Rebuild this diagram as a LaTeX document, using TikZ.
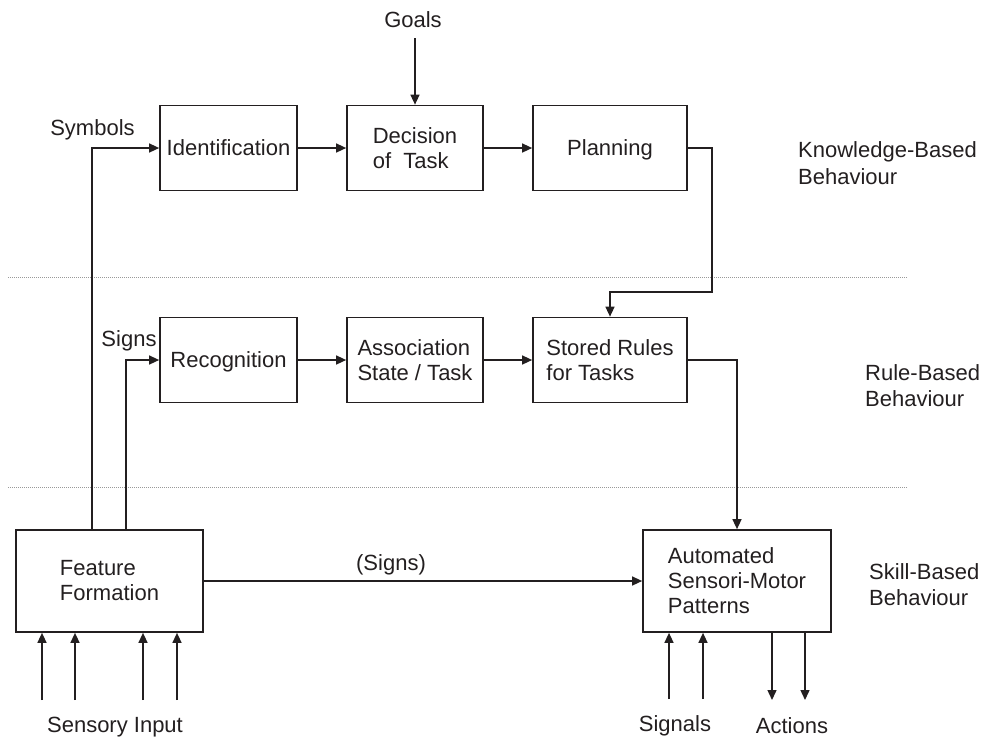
\documentclass[tikz,border=0pt]{standalone}
\usepackage{fontspec}
\setmainfont{Liberation Sans}
\usetikzlibrary{arrows.meta}
\definecolor{ink}{HTML}{231F20}
\begin{document}
\begin{tikzpicture}[x=1pt,y=-1pt,
  font=\fontsize{22}{25}\selectfont,
  every node/.style={text=ink},
  blk/.style={draw=ink,line width=1.7pt,inner sep=0pt,align=left,
    minimum height=85pt},
  lbl/.style={inner sep=0pt,align=left},
  link/.style={draw=ink,line width=1.4pt},
  arr/.style={link,-{Triangle[length=10pt,width=9pt]}},
  divider/.style={draw=gray!80,line width=0.8pt,dash pattern=on 1pt off 1pt}]
\useasboundingbox (0,0) rectangle (984,737);

% level dividers
\coordinate (d1a) at (8,277);  \coordinate (d1b) at (907,277);
\coordinate (d2a) at (8,487);  \coordinate (d2b) at (907,487);
\draw[divider] (d1a) -- (d1b);
\draw[divider] (d2a) -- (d2b);

% knowledge-based level
\node[blk,minimum width=137pt] (ident) at (228.5,148) {Identification};
\node[blk,minimum width=136pt] (decide) at (415,148) {Decision\\of\ \ Task};
\node[blk,minimum width=154pt,text depth=0pt] (plan) at (610,148) {Planning};

% rule-based level
\node[blk,minimum width=137pt,text depth=0pt] (recog) at (228.5,360) {Recognition};
\node[blk,minimum width=136pt] (assoc) at (415,360) {Association\\State / Task};
\node[blk,minimum width=154pt] (rules) at (610,360) {Stored Rules\\for Tasks};

% skill-based level
\node[blk,minimum width=187pt,minimum height=102pt] (feat) at (109.5,581) {Feature\\Formation};
\node[blk,minimum width=188pt,minimum height=102pt] (auto) at (737,581) {Automated\\Sensori-Motor\\Patterns};

% level names
\node[lbl,anchor=west,font=\fontsize{22}{27}\selectfont] (kb) at (798,163) {Knowledge-Based\\Behaviour};
\node[lbl,anchor=west,font=\fontsize{22}{26}\selectfont] (rb) at (865,386) {Rule-Based\\Behaviour};
\node[lbl,anchor=west,font=\fontsize{22}{26}\selectfont] (sb) at (869,585) {Skill-Based\\Behaviour};

% other labels
\node[lbl] (goals) at (413,20) {Goals};
\node[lbl] (symb) at (92.5,130) {Symbols};
\node[lbl] (signs) at (129,341) {Signs};
\node[lbl] (psigns) at (391,565) {(Signs)};
\node[lbl] (sens) at (115,727) {Sensory Input};
\node[lbl] (sig) at (675,726) {Signals};
\node[lbl] (act) at (792,726) {Actions};

% goals into decision
\coordinate (gtop) at (415,38);
\draw[arr] (gtop) -- (decide.north);

% horizontal flows
\draw[arr] (ident) -- (decide);
\draw[arr] (decide) -- (plan);
\draw[arr] (recog) -- (assoc);
\draw[arr] (assoc) -- (rules);
\draw[arr] (feat.east) -- (auto.west);

% feature formation up to identification and recognition
\coordinate (symx) at (92,530);
\coordinate (sigx) at (126,530);
\draw[arr] (symx) -- (symx |- ident.west) -- (ident.west);
\draw[arr] (sigx) -- (sigx |- recog.west) -- (recog.west);

% planning down to stored rules
\coordinate (pr) at (712,148);
\coordinate (pk) at (712,292);
\draw[arr] (plan.east) -- (pr) -- (pk) -- (pk -| rules.north) -- (rules.north);

% stored rules down to automated patterns
\draw[arr] (rules.east) -- (rules.east -| auto.north) -- (auto.north);

% sensory inputs
\foreach \i/\x in {1/42,2/75,3/143,4/177}{
  \coordinate (s\i) at (\x,700);
  \draw[arr] (s\i) -- (s\i |- feat.south);
}
% signals
\foreach \i/\x in {1/669,2/703}{
  \coordinate (g\i) at (\x,699);
  \draw[arr] (g\i) -- (g\i |- auto.south);
}
% actions
\foreach \i/\x in {1/772,2/805}{
  \coordinate (a\i) at (\x,700);
  \draw[arr] (a\i |- auto.south) -- (a\i);
}
\end{tikzpicture}
\end{document}
